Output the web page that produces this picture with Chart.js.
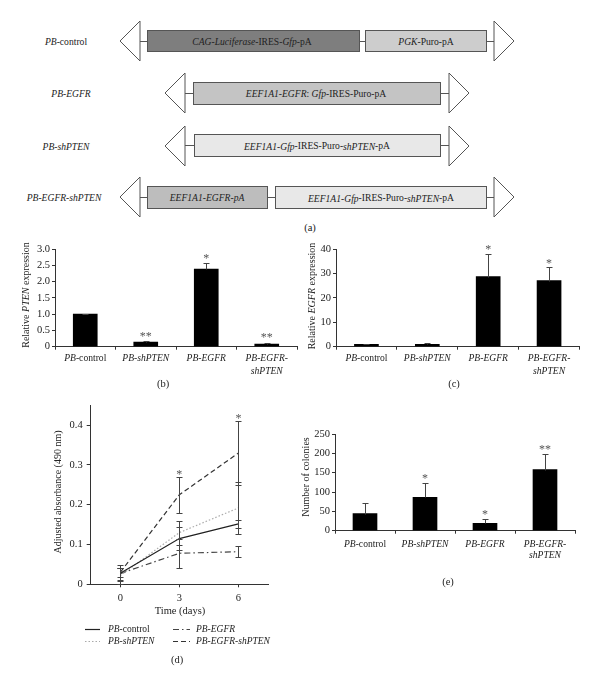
<!DOCTYPE html>
<html>
<head>
<meta charset="utf-8">
<script src="https://cdn.jsdelivr.net/npm/chart.js@4.4.1/dist/chart.umd.min.js"></script>
<style>
html, body { margin: 0; padding: 0; background: #fff; }
#wrap { position: relative; width: 600px; height: 686px; overflow: hidden; }
#wrap canvas, #wrap svg { position: absolute; }
#constructs text { font-family: "Liberation Serif", "Times New Roman", serif; font-size: 9.6px; fill: #222; }
#constructs polygon { fill: #fff; stroke: #555; stroke-width: 1; }
#constructs line { stroke: #555; stroke-width: 1; }
#constructs rect { stroke: #555; stroke-width: 1; }
</style>
</head>
<body>
<div id="wrap">
<!-- (a) vector constructs -->
<svg id="constructs" width="600" height="240" style="left:0;top:0">
  <!-- PB-control -->
  <text x="66" y="41" text-anchor="middle" dominant-baseline="central"><tspan font-style="italic">PB</tspan>-control</text>
  <polygon points="140,21 120,41 140,61"/>
  <line x1="140" y1="41.5" x2="147" y2="41.5"/>
  <rect x="147.5" y="30.5" width="212" height="21" fill="#7e7e7e"/>
  <line x1="360" y1="41.5" x2="365" y2="41.5"/>
  <rect x="365.5" y="30.5" width="121" height="21" fill="#cdcdcd"/>
  <line x1="487" y1="41.5" x2="494" y2="41.5"/>
  <polygon points="494,21 514,41 494,61"/>
  <text x="252" y="41" text-anchor="middle" dominant-baseline="central"><tspan font-style="italic">CAG-Luciferase</tspan>-IRES-<tspan font-style="italic">Gfp</tspan>-pA</text>
  <text x="426" y="41" text-anchor="middle" dominant-baseline="central"><tspan font-style="italic">PGK</tspan>-Puro-pA</text>

  <!-- PB-EGFR -->
  <text x="71" y="93" text-anchor="middle" dominant-baseline="central" font-style="italic">PB-EGFR</text>
  <polygon points="185,73 165,93 185,113"/>
  <line x1="185" y1="93.5" x2="193" y2="93.5"/>
  <rect x="193.5" y="82.5" width="247" height="22" fill="#c4c4c4"/>
  <line x1="441" y1="93.5" x2="449" y2="93.5"/>
  <polygon points="449,73 469,93 449,113"/>
  <text x="316" y="93" text-anchor="middle" dominant-baseline="central"><tspan font-style="italic">EEF1A1-EGFR</tspan>: <tspan font-style="italic">Gfp</tspan>-IRES-Puro-pA</text>

  <!-- PB-shPTEN -->
  <text x="66" y="146" text-anchor="middle" dominant-baseline="central" font-style="italic">PB-shPTEN</text>
  <polygon points="185,126 165,146 185,166"/>
  <line x1="185" y1="145.5" x2="194" y2="145.5"/>
  <rect x="194.5" y="134.5" width="246" height="22" fill="#e8e8e8"/>
  <line x1="441" y1="145.5" x2="449" y2="145.5"/>
  <polygon points="449,126 469,146 449,166"/>
  <text x="317" y="145.5" text-anchor="middle" dominant-baseline="central"><tspan font-style="italic">EEF1A1-Gfp</tspan>-IRES-Puro-<tspan font-style="italic">shPTEN</tspan>-pA</text>

  <!-- PB-EGFR-shPTEN -->
  <text x="64" y="197" text-anchor="middle" dominant-baseline="central" font-style="italic">PB-EGFR-shPTEN</text>
  <polygon points="140,177 120,197 140,217"/>
  <line x1="140" y1="197.5" x2="147" y2="197.5"/>
  <rect x="147.5" y="186.5" width="120" height="22" fill="#bdbdbd"/>
  <line x1="268" y1="197.5" x2="275" y2="197.5"/>
  <rect x="275.5" y="186.5" width="211" height="22" fill="#e8e8e8"/>
  <line x1="487" y1="197.5" x2="494" y2="197.5"/>
  <polygon points="494,177 514,197 494,217"/>
  <text x="207" y="197.5" text-anchor="middle" dominant-baseline="central" font-style="italic">EEF1A1-EGFR-pA</text>
  <text x="381" y="197.5" text-anchor="middle" dominant-baseline="central"><tspan font-style="italic">EEF1A1-Gfp</tspan>-IRES-Puro-<tspan font-style="italic">shPTEN</tspan>-pA</text>

  <text x="310" y="227" text-anchor="middle" dominant-baseline="central" style="font-size:10.5px">(a)</text>
</svg>

<canvas id="pten" width="300" height="160" style="left:0;top:236px"></canvas>
<canvas id="egfr" width="300" height="160" style="left:300px;top:236px"></canvas>
<canvas id="growth" width="260" height="291" style="left:40px;top:395px"></canvas>
<canvas id="colonies" width="300" height="180" style="left:300px;top:420px"></canvas>
</div>

<script>
const FONT = '"Liberation Serif", "Times New Roman", serif';
Chart.defaults.font.family = FONT;
Chart.defaults.color = '#222';

// groups shared by the bar panels
const categories = ['PB-control', 'PB-shPTEN', 'PB-EGFR', 'PB-EGFR-shPTEN'];
const categoryLabels = [['<i>PB</i>-control'], ['<i>PB-shPTEN</i>'], ['<i>PB-EGFR</i>'], ['<i>PB-EGFR-</i>', '<i>shPTEN</i>']];

// (b) relative PTEN expression
const ptenValues = [1.0, 0.14, 2.38, 0.08];
const ptenErrors = [0.01, 0.03, 0.2, 0.02];
const ptenStars = ['', '**', '*', '**'];
const ptenStarAt = [0, 0.36, 2.76, 0.34];
const ptenTicks = [0, 0.5, 1, 1.5, 2, 2.5, 3];

// (c) relative EGFR expression
const egfrValues = [1.0, 1.0, 28.7, 27.1];
const egfrErrors = [0.2, 0.5, 9.2, 5.5];
const egfrStars = ['', '', '*', '*'];
const egfrStarAt = [0, 0, 40.5, 34.9];
const egfrTicks = [0, 5, 10, 15, 20, 25, 30, 35, 40];

// (e) number of colonies
const colonyValues = [44, 86, 19, 158];
const colonyErrors = [27, 38, 10.5, 40];
const colonyStars = ['', '*', '*', '**'];
const colonyStarAt = [0, 139, 46.5, 214];
const colonyTicks = [0, 50, 100, 150, 200, 250];

// (d) adjusted absorbance over time
const days = [0, 3, 6];
const dayTicks = [0, 3, 6];
const absTicks = [0, 0.1, 0.2, 0.3, 0.4];
const absControl = [0.028, 0.115, 0.152];
const errControl = [0.02, 0.03, 0.01];
const absShPTEN = [0.022, 0.13, 0.192];
const errShPTEN = [0.02, 0.03, 0.066];
const absEGFR = [0.027, 0.078, 0.082];
const errEGFR = [0.015, 0.037, 0.014];
const absEGFRshPTEN = [0.03, 0.225, 0.33];
const errEGFRshPTEN = [0.012, 0.045, 0.08];
const seriesNames = ['<i>PB</i>-control', '<i>PB-shPTEN</i>', '<i>PB-EGFR</i>', '<i>PB-EGFR-shPTEN</i>'];
const growthStars = ['*', '*'];
const growthStarDays = [3, 6];
const growthStarAt = [0.281, 0.42];

// draw text with <i>..</i> parts in italic
function richText(ctx, s, x, y, size, align) {
  const parts = [];
  let it = false;
  s.split(/(<\/?i>)/).forEach(p => {
    if (p === '<i>') it = true;
    else if (p === '</i>') it = false;
    else if (p) parts.push({ t: p, it: it });
  });
  let w = 0;
  parts.forEach(p => {
    ctx.font = (p.it ? 'italic ' : '') + size + 'px ' + FONT;
    p.w = ctx.measureText(p.t).width;
    w += p.w;
  });
  let cx = align === 'left' ? x : align === 'right' ? x - w : x - w / 2;
  ctx.textAlign = 'left';
  ctx.textBaseline = 'middle';
  parts.forEach(p => {
    ctx.font = (p.it ? 'italic ' : '') + size + 'px ' + FONT;
    ctx.fillText(p.t, cx, y);
    cx += p.w;
  });
}

function drawStars(ctx, s, x, y) {
  ctx.font = '12px ' + FONT;
  ctx.textAlign = 'center';
  ctx.textBaseline = 'middle';
  const n = s.length;
  for (let k = 0; k < n; k++) {
    ctx.fillText('*', x + (k - (n - 1) / 2) * 6, y + 2);
  }
}

const errorBars = {
  id: 'errorBars',
  afterDatasetsDraw(chart) {
    const ctx = chart.ctx, ys = chart.scales.y;
    chart.data.datasets.forEach((ds, di) => {
      if (!ds.errors) return;
      const meta = chart.getDatasetMeta(di);
      ctx.save();
      ctx.strokeStyle = '#444';
      ctx.lineWidth = 1;
      ctx.setLineDash([]);
      meta.data.forEach((el, i) => {
        const d = ds.data[i];
        const v = typeof d === 'object' ? d.y : d;
        const e = ds.errors[i];
        const x = Math.round(el.x) + 0.5;
        const top = Math.round(ys.getPixelForValue(v + e)) + 0.5;
        const bot = Math.round(ys.getPixelForValue(ds.errorBoth ? v - e : v)) + 0.5;
        ctx.beginPath();
        ctx.moveTo(x, top); ctx.lineTo(x, bot);
        ctx.moveTo(x - 3, top); ctx.lineTo(x + 3, top);
        if (ds.errorBoth) { ctx.moveTo(x - 3, bot); ctx.lineTo(x + 3, bot); }
        ctx.stroke();
      });
      ctx.restore();
    });
  }
};

function makeAnnot(cfg) {
  return {
    id: 'annot',
    afterDraw(chart) {
      const ctx = chart.ctx, xs = chart.scales.x, ys = chart.scales.y, area = chart.chartArea;
      ctx.save();
      ctx.fillStyle = '#222';
      if (cfg.xLabels) {
        cfg.xLabels.forEach((lines, i) => lines.forEach((t, k) => {
          richText(ctx, t, xs.getPixelForValue(i), area.bottom + cfg.xLabelOffset + k * cfg.lineHeight, 9.6, 'center');
        }));
      }
      if (cfg.yTitle) {
        ctx.save();
        ctx.translate(cfg.yTitle.x, cfg.yTitle.y);
        ctx.rotate(-Math.PI / 2);
        richText(ctx, cfg.yTitle.text, 0, 0, 10, 'center');
        ctx.restore();
      }
      if (cfg.xTitle) richText(ctx, cfg.xTitle.text, cfg.xTitle.x, cfg.xTitle.y, 10.5, 'center');
      if (cfg.panel) richText(ctx, cfg.panel.text, cfg.panel.x, cfg.panel.y, 10.5, 'center');
      if (cfg.legend) {
        const L = cfg.legend;
        chart.data.datasets.forEach((ds, i) => {
          const c = L.slots[i][0], r = L.slots[i][1];
          const y = Math.round(L.rows[r]) + 0.5;
          ctx.save();
          ctx.strokeStyle = ds.borderColor;
          ctx.lineWidth = ds.borderWidth;
          ctx.setLineDash(ds.borderDash || []);
          ctx.beginPath();
          ctx.moveTo(L.sample[c][0], y);
          ctx.lineTo(L.sample[c][1], y);
          ctx.stroke();
          ctx.restore();
          ctx.fillStyle = '#222';
          richText(ctx, ds.label, L.text[c], y, 9.5, 'left');
        });
      }
      if (cfg.stars) {
        ctx.fillStyle = '#555';
        cfg.stars.forEach((s, i) => {
          if (!s) return;
          const x = xs.getPixelForValue(cfg.starX ? cfg.starX[i] : i);
          drawStars(ctx, s, x, ys.getPixelForValue(cfg.starAt[i]));
        });
      }
      ctx.restore();
    }
  };
}

function makeBar(id, cfg) {
  return new Chart(document.getElementById(id), {
    type: 'bar',
    data: {
      labels: categories,
      datasets: [{ data: cfg.values, errors: cfg.errors, backgroundColor: '#000', borderWidth: 0, barThickness: 24 }]
    },
    options: {
      responsive: false,
      animation: false,
      layout: { padding: cfg.padding },
      plugins: { legend: { display: false }, tooltip: { enabled: false } },
      scales: {
        x: {
          grid: { drawOnChartArea: false, drawTicks: true, tickLength: 3, color: '#333', offset: true },
          border: { color: '#333' },
          ticks: { display: false },
          afterFit: s => { s.height = cfg.xHeight; }
        },
        y: {
          min: 0,
          max: cfg.ticks[cfg.ticks.length - 1],
          grid: { drawOnChartArea: false, drawTicks: true, tickLength: 3, color: '#333' },
          border: { color: '#333' },
          ticks: { padding: 2, font: { size: 10.5 }, color: '#222' },
          afterBuildTicks: s => { s.ticks = cfg.ticks.map(v => ({ value: v })); },
          afterFit: s => { s.width = cfg.yWidth; }
        }
      }
    },
    plugins: [errorBars, makeAnnot({
      xLabels: categoryLabels, xLabelOffset: cfg.xLabelOffset, lineHeight: cfg.lineHeight,
      yTitle: cfg.yTitle, panel: cfg.panel, stars: cfg.stars, starAt: cfg.starAt
    })]
  });
}

makeBar('pten', {
  values: ptenValues, errors: ptenErrors, ticks: ptenTicks, stars: ptenStars, starAt: ptenStarAt,
  padding: { top: 13, right: 3, left: 0, bottom: 0 }, yWidth: 55, xHeight: 49.3,
  xLabelOffset: 11.5, lineHeight: 13,
  yTitle: { text: 'Relative <i>PTEN</i> expression', x: 26, y: 59 },
  panel: { text: '(b)', x: 163, y: 148 }
});

makeBar('egfr', {
  values: egfrValues, errors: egfrErrors, ticks: egfrTicks, stars: egfrStars, starAt: egfrStarAt,
  padding: { top: 13, right: 20.5, left: 0, bottom: 0 }, yWidth: 36, xHeight: 49.3,
  xLabelOffset: 11.5, lineHeight: 13,
  yTitle: { text: 'Relative <i>EGFR</i> expression', x: 12, y: 60 },
  panel: { text: '(c)', x: 154, y: 148 }
});

makeBar('colonies', {
  values: colonyValues, errors: colonyErrors, ticks: colonyTicks, stars: colonyStars, starAt: colonyStarAt,
  padding: { top: 14, right: 25, left: 0, bottom: 0 }, yWidth: 35, xHeight: 69.3,
  xLabelOffset: 13.3, lineHeight: 11.5,
  yTitle: { text: 'Number of colonies', x: 6, y: 57 },
  panel: { text: '(e)', x: 148, y: 162 }
});

function series(label, values, errors, color, dash) {
  return {
    label: label,
    data: days.map((d, i) => ({ x: d, y: values[i] })),
    errors: errors,
    errorBoth: true,
    borderColor: color,
    borderWidth: 1.2,
    borderDash: dash,
    pointRadius: 0,
    fill: false,
    tension: 0
  };
}

new Chart(document.getElementById('growth'), {
  type: 'line',
  data: {
    datasets: [
      series(seriesNames[0], absControl, errControl, '#222', []),
      series(seriesNames[1], absShPTEN, errShPTEN, '#aaa', [1.5, 2]),
      series(seriesNames[2], absEGFR, errEGFR, '#444', [6, 3, 1.5, 3]),
      series(seriesNames[3], absEGFRshPTEN, errEGFRshPTEN, '#333', [5, 3])
    ]
  },
  options: {
    responsive: false,
    animation: false,
    layout: { padding: { top: 8, right: 32, left: 0, bottom: 0 } },
    plugins: { legend: { display: false }, tooltip: { enabled: false } },
    scales: {
      x: {
        type: 'linear', min: -1.5, max: 7.5,
        grid: { drawOnChartArea: false, drawTicks: true, tickLength: 3, color: '#333' },
        border: { color: '#333' },
        ticks: { padding: 5, font: { size: 10.5 }, color: '#222' },
        afterBuildTicks: s => { s.ticks = dayTicks.map(v => ({ value: v })); },
        afterFit: s => { s.height = 101.7; }
      },
      y: {
        min: 0, max: 0.45,
        grid: { drawOnChartArea: false, drawTicks: true, tickLength: 4, color: '#333' },
        border: { color: '#333' },
        ticks: { padding: 4, font: { size: 10.5 }, color: '#222', callback: v => v === 0 ? '0' : v.toFixed(1) },
        afterBuildTicks: s => { s.ticks = absTicks.map(v => ({ value: v })); },
        afterFit: s => { s.width = 50.7; }
      }
    }
  },
  plugins: [errorBars, makeAnnot({
    yTitle: { text: 'Adjusted absorbance (490 nm)', x: 18, y: 97 },
    xTitle: { text: 'Time (days)', x: 140, y: 216 },
    panel: { text: '(d)', x: 137, y: 265 },
    stars: growthStars, starX: growthStarDays, starAt: growthStarAt,
    legend: {
      slots: [[0, 0], [0, 1], [1, 0], [1, 1]],
      rows: [233.7, 245.7],
      sample: [[45, 60], [133, 150]],
      text: [68, 156]
    }
  })]
});
</script>
</body>
</html>
